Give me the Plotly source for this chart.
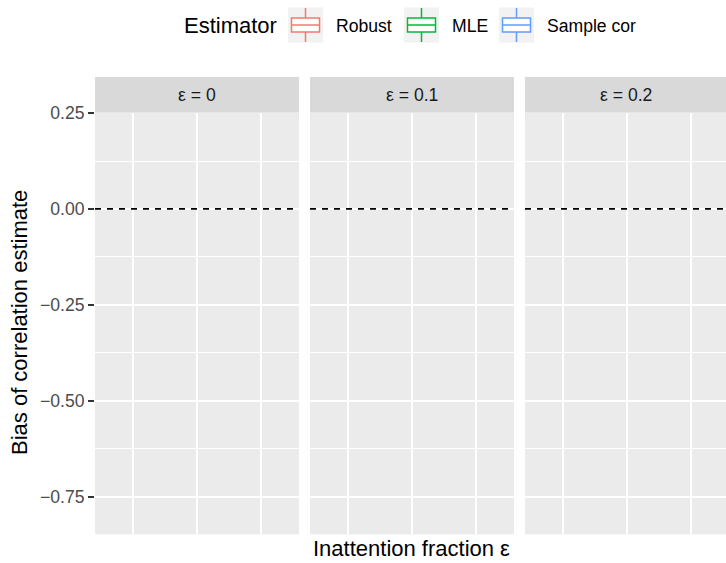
import plotly.graph_objects as go

# ---- data ----
facets = ["ε = 0", "ε = 0.1", "ε = 0.2"]
x_levels = ["0", "0.1", "0.2"]
estimators = ["Robust", "MLE", "Sample cor"]
est_colors = ["#F8766D", "#00BA38", "#619CFF"]
# bias values per facet / estimator (no visible boxes in the reference)
bias_values = {f: {e: [] for e in estimators} for f in facets}
ref_line = 0.0
y_tickvals = [0.25, 0.0, -0.25, -0.50, -0.75]
y_ticktext = ["0.25", "0.00", "\u22120.25", "\u22120.50", "\u22120.75"]
y_minor = [0.125, -0.125, -0.375, -0.625]

W, H = 726, 563
FONT = "Liberation Sans, Arial, Helvetica, sans-serif"

def px_x(p):
    return p / W

def px_y(p):
    return 1 - p / H

panel_px = [(95, 299), (310, 514), (525, 726)]
unit = 204 / 3.2
top_px, bot_px = 112.5, 534.3
strip_top = 77
legend_text_x = [337, 453, 548]
legend_names = ["legend", "legend2", "legend3"]
ITEMW = 53
leg_cy = 25

fig = go.Figure()

for i, f in enumerate(facets):
    xa = "x" if i == 0 else f"x{i+1}"
    for j, e in enumerate(estimators):
        vals = bias_values[f][e]
        fig.add_trace(go.Box(
            y=vals if vals else [None],
            name=e, legendgroup=e, showlegend=(i == 0), legend=legend_names[j],
            line=dict(color=est_colors[j], width=0),
            fillcolor="rgba(255,255,255,0)", marker=dict(color=est_colors[j]),
            xaxis=xa, yaxis="y", offsetgroup=e,
        ))

layout = dict(
    width=W, height=H,
    margin=dict(l=0, r=0, t=0, b=0, autoexpand=False),
    paper_bgcolor="white", plot_bgcolor="#EBEBEB",
    font=dict(family=FONT, color="#1A1A1A"),
    boxmode="group",
    showlegend=True,
    yaxis=dict(
        domain=[px_y(bot_px), px_y(top_px)], anchor="x",
        range=[-0.8485, 0.2515], tickvals=y_tickvals, ticktext=y_ticktext,
        ticks="outside", ticklen=6, tickwidth=1.6, tickcolor="#333333",
        tickfont=dict(size=17.6, color="#4D4D4D"),
        showgrid=True, gridcolor="white", gridwidth=2, zeroline=False,
        showline=False, automargin=False,
        minor=dict(tickvals=y_minor, showgrid=True, gridcolor="white", gridwidth=1, ticks=""),
    ),
)

shapes = []
annotations = []

for j, ln in enumerate(legend_names):
    layout[ln] = dict(
        orientation="h", x=px_x(legend_text_x[j] - ITEMW - 11), xanchor="left",
        y=px_y(leg_cy), yanchor="middle",
        font=dict(size=17.6, color="black"), bgcolor="rgba(0,0,0,0)",
        itemwidth=ITEMW, tracegroupgap=0,
    )
    # ggplot-like boxplot key: grey background, box, median and whiskers
    cx = legend_text_x[j] - 31.5
    col = est_colors[j]
    shapes.append(dict(type="rect", xref="paper", yref="paper",
                       x0=px_x(cx - 17.5), x1=px_x(cx + 17.5),
                       y0=px_y(leg_cy + 17.5), y1=px_y(leg_cy - 17.5),
                       fillcolor="#F2F2F2", line=dict(width=0), layer="above"))
    shapes.append(dict(type="rect", xref="paper", yref="paper",
                       x0=px_x(cx - 14), x1=px_x(cx + 14),
                       y0=px_y(leg_cy + 7), y1=px_y(leg_cy - 7),
                       fillcolor="white", line=dict(color=col, width=1.5), layer="above"))
    for (ya, yb) in [(leg_cy - 17, leg_cy - 7), (leg_cy + 7, leg_cy + 17)]:
        shapes.append(dict(type="line", xref="paper", yref="paper",
                           x0=px_x(cx), x1=px_x(cx), y0=px_y(ya), y1=px_y(yb),
                           line=dict(color=col, width=1.5), layer="above"))
    shapes.append(dict(type="line", xref="paper", yref="paper",
                       x0=px_x(cx - 14), x1=px_x(cx + 14), y0=px_y(leg_cy), y1=px_y(leg_cy),
                       line=dict(color=col, width=1.5), layer="above"))

for i, (a, b) in enumerate(panel_px):
    key = "xaxis" if i == 0 else f"xaxis{i+1}"
    width_px = b - a
    layout[key] = dict(
        domain=[px_x(a), px_x(b)], anchor="y", type="category",
        categoryorder="array", categoryarray=x_levels,
        range=[-0.6, -0.6 + width_px / unit],
        showticklabels=False, ticks="", showgrid=True, gridcolor="white",
        gridwidth=2, zeroline=False, showline=False, fixedrange=True, automargin=False,
    )
    # strip
    shapes.append(dict(type="rect", xref="paper", yref="paper",
                       x0=px_x(a), x1=px_x(b), y0=px_y(top_px), y1=px_y(strip_top),
                       fillcolor="#D9D9D9", line=dict(width=0), layer="below"))
    annotations.append(dict(text=facets[i], xref="paper", yref="paper",
                            x=(px_x(a) + px_x(b)) / 2, y=(px_y(top_px) + px_y(strip_top)) / 2,
                            showarrow=False, font=dict(size=17.6, color="#1A1A1A"),
                            xanchor="center", yanchor="middle"))
    # reference line
    xr = "x" if i == 0 else f"x{i+1}"
    shapes.append(dict(type="line", xref=f"{xr} domain", yref="y",
                       x0=0, x1=1, y0=ref_line, y1=ref_line,
                       line=dict(color="black", width=1.8, dash="6px,6px"), layer="above"))

annotations.append(dict(text="Estimator", xref="paper", yref="paper",
                        x=px_x(182), y=px_y(26), showarrow=False,
                        font=dict(size=22, color="black"), xanchor="left", yanchor="middle"))
annotations.append(dict(text="Inattention fraction ε", xref="paper", yref="paper",
                        x=px_x(411), y=px_y(562.5), showarrow=False,
                        font=dict(size=22, color="black"), xanchor="center", yanchor="bottom"))
annotations.append(dict(text="Bias of correlation estimate", xref="paper", yref="paper",
                        x=px_x(19), y=px_y(323), showarrow=False, textangle=-90,
                        font=dict(size=22, color="black"), xanchor="center", yanchor="middle"))

layout["shapes"] = shapes
layout["annotations"] = annotations
fig.update_layout(**layout)
fig.write_html("out.html", config={"displayModeBar": False})
